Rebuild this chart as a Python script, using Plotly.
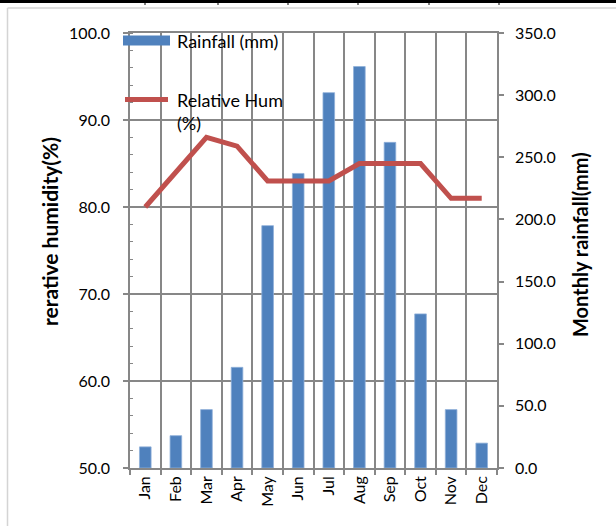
import plotly.graph_objects as go

# Monthly climate data
months = ["Jan", "Feb", "Mar", "Apr", "May", "Jun",
          "Jul", "Aug", "Sep", "Oct", "Nov", "Dec"]
rainfall_mm = [17, 26, 47, 81, 195, 237, 302, 323, 262, 124, 47, 20]
humidity_pct = [80, 84, 88, 87, 83, 83, 83, 85, 85, 85, 81, 81]

humidity_ticks = [50, 60, 70, 80, 90, 100]
rainfall_ticks = [0, 50, 100, 150, 200, 250, 300, 350]

W, H = 616, 526
ML, MR, MT, MB = 130, 119, 33, 58
PW, PH = W - ML - MR, H - MT - MB


def px(x):
    return (x - ML) / PW


def py(y):
    return (H - MB - y) / PH


FONT = "Lato"
GRID = "#878787"
BLUE = "#4f81bd"
RED = "#c0504d"
HUM_RANGE = [humidity_ticks[0], humidity_ticks[-1]]
RAIN_RANGE = [rainfall_ticks[0], rainfall_ticks[-1]]
# humidity gridlines expressed in rainfall units (10 % step == 70 mm step)
grid_step = (RAIN_RANGE[1] - RAIN_RANGE[0]) / (len(humidity_ticks) - 1)

fig = go.Figure()

fig.add_trace(go.Bar(
    x=months, y=rainfall_mm, name="Rainfall (mm)",
    marker=dict(color=BLUE, line=dict(color="#8fb0d9", width=0.8)),
    width=0.38, yaxis="y", showlegend=False,
))
# humidity line lives on the overlay axis so it is painted above the bars
fig.add_trace(go.Scatter(
    x=months, y=humidity_pct, name="Relative Hum (%)",
    mode="lines", line=dict(color=RED, width=5),
    yaxis="y2", showlegend=False,
))

axis_common = dict(
    showline=True, linecolor=GRID, linewidth=1.6,
    ticks="outside", ticklen=5, tickcolor=GRID, tickwidth=1.6,
    tickfont=dict(size=16),
)

fig.update_layout(
    width=W, height=H,
    margin=dict(l=ML, r=MR, t=MT, b=MB, pad=0),
    paper_bgcolor="white", plot_bgcolor="white",
    font=dict(family=FONT, size=16, color="#000000"),
    xaxis=dict(
        type="category", tickson="boundaries", mirror=True,
        showgrid=True, gridcolor=GRID, gridwidth=1.6,
        tickangle=-90, **axis_common,
    ),
    # rainfall: right-hand axis; its minor grid draws the humidity gridlines
    yaxis=dict(
        side="right", range=RAIN_RANGE,
        tickvals=rainfall_ticks,
        ticktext=[f"{v:.1f}" for v in rainfall_ticks],
        showgrid=False, zeroline=False,
        minor=dict(tick0=0, dtick=grid_step, ticks="", showgrid=True,
                   gridcolor=GRID, gridwidth=1.6),
        ticklabelstandoff=8, **axis_common,
    ),
    # humidity: left-hand axis
    yaxis2=dict(
        overlaying="y", side="left", range=HUM_RANGE,
        tickvals=humidity_ticks,
        ticktext=[f"{v:.1f}" for v in humidity_ticks],
        showgrid=False, zeroline=False,
        minor=dict(ticks="inside", dtick=2, ticklen=3, tickcolor=GRID,
                   tickwidth=1.2, showgrid=False),
        ticklabelstandoff=10, **axis_common,
    ),
)

# legend swatches and labels
fig.add_shape(type="rect", xref="paper", yref="paper",
              x0=px(123), x1=px(170), y0=py(45.5), y1=py(35.5),
              fillcolor=BLUE, line=dict(width=0))
fig.add_shape(type="line", xref="paper", yref="paper",
              x0=px(125), x1=px(168), y0=py(99.5), y1=py(99.5),
              line=dict(color=RED, width=5))
fig.add_annotation(xref="paper", yref="paper", x=px(175), y=py(41),
                   text="Rainfall (mm)", showarrow=False,
                   xanchor="left", yanchor="middle", font=dict(size=18))
fig.add_annotation(xref="paper", yref="paper", x=px(175), y=py(111),
                   text="Relative Hum<br>(%)", showarrow=False, align="left",
                   xanchor="left", yanchor="middle", font=dict(size=18))

# axis titles
fig.add_annotation(xref="paper", yref="paper", x=px(50), y=py(232),
                   text="<b>rerative humidity(%)</b>", textangle=-90,
                   showarrow=False, xanchor="center", yanchor="middle",
                   font=dict(size=21))
fig.add_annotation(xref="paper", yref="paper", x=px(580), y=py(245),
                   text="<b>Monthly rainfall(mm)</b>", textangle=-90,
                   showarrow=False, xanchor="center", yanchor="middle",
                   font=dict(size=20))

# chart frame and surrounding table rule
fig.add_shape(type="line", xref="paper", yref="paper",
              x0=px(7.5), x1=px(620), y0=py(8), y1=py(8),
              line=dict(color="#d4d4d4", width=1.5))
fig.add_shape(type="line", xref="paper", yref="paper",
              x0=px(7.5), x1=px(7.5), y0=py(8), y1=py(530),
              line=dict(color="#d4d4d4", width=1.5))
fig.add_shape(type="rect", xref="paper", yref="paper",
              x0=px(-2), x1=px(620), y0=py(0), y1=py(3),
              fillcolor="#000000", line=dict(width=0))
for tx in [145, 218, 288, 358, 429, 499]:
    fig.add_shape(type="line", xref="paper", yref="paper",
                  x0=px(tx), x1=px(tx), y0=py(3), y1=py(5),
                  line=dict(color="#000000", width=1))

fig.write_html("out.html")
